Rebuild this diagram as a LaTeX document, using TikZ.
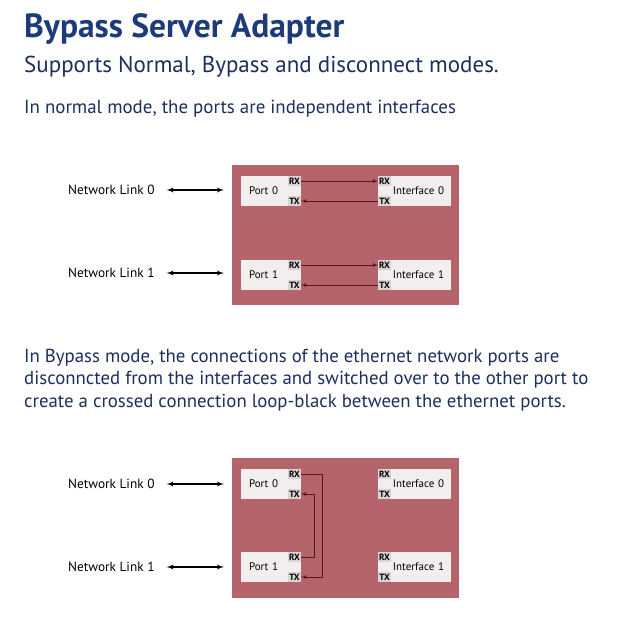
\documentclass[tikz,border=0pt]{standalone}
\usepackage{fontspec}
\setmainfont{PT Sans}
\usetikzlibrary{arrows}
\usetikzlibrary{positioning}
\definecolor{titleblue}{HTML}{1B3B7B}
\definecolor{textblue}{HTML}{1E2F5E}
\definecolor{cardred}{HTML}{B4646A}
\definecolor{boxwhite}{HTML}{F3EEEE}
\definecolor{pingrey}{HTML}{D6D3D3}
\definecolor{wirered}{HTML}{5C1418}
\tikzset{card/.style = {fill=cardred, minimum width=227, minimum height=140, inner sep=0}}
\tikzset{portbox/.style = {fill=boxwhite, minimum width=60, minimum height=30, text width=44,
                           inner xsep=8, inner ysep=0, align=left, font=\fontsize{11}{11}\selectfont}}
\tikzset{ifacebox/.style = {fill=boxwhite, minimum width=73, minimum height=30, text width=59,
                            inner xsep=7, inner ysep=0, align=right, font=\fontsize{11}{11}\selectfont}}
\tikzset{pin/.style = {fill=pingrey, inner sep=0, minimum width=13, minimum height=10,
                       font=\bfseries\fontsize{9}{9}\selectfont}}
\tikzset{wire/.style = {draw=wirered, line width=0.8, -latex'}}
\tikzset{link/.style = {line width=1.3, latex'-latex', shorten <=12, shorten >=8}}
\tikzset{linklabel/.style = {inner sep=0, anchor=west, font=\fontsize{13.3}{13.3}\selectfont}}

\begin{document}
\begin{tikzpicture}[x=1pt, y=-1pt]
      \useasboundingbox [fill=white] (0, 0) rectangle (640, 640);
      % heading
      \node [anchor=base west, inner sep=0, text=titleblue, font=\bfseries\fontsize{33.5}{33.5}\selectfont] (title) at (24, 37) {Bypass Server Adapter};
      \node [anchor=base west, inner sep=0, text=textblue, font=\fontsize{23}{23}\selectfont] (modes) at (24, 72) {Supports Normal, Bypass and disconnect modes.};
      \node [anchor=base west, inner sep=0, text=textblue, font=\fontsize{18.9}{18.9}\selectfont] (normalnote) at (24, 113) {In normal mode, the ports are independent interfaces};

      % normal mode
      \node [card] (cardA) at (345.5, 235) {};
      \node [portbox] (portA0) at (271, 191) {Port 0};
      \node [portbox] (portA1) at (271, 275) {Port 1};
      \node [ifacebox] (ifaceA0) at (414.5, 191) {Interface 0};
      \node [ifacebox] (ifaceA1) at (414.5, 275) {Interface 1};
      \foreach \n in {0, 1} {
        \node [pin, anchor=north east] (portA\n rx) at (portA\n.north east) {RX};
        \node [pin, anchor=south east] (portA\n tx) at (portA\n.south east) {TX};
        \node [pin, anchor=north west] (ifaceA\n rx) at (ifaceA\n.north west) {RX};
        \node [pin, anchor=south west] (ifaceA\n tx) at (ifaceA\n.south west) {TX};
        \draw [wire] (portA\n rx) -- (ifaceA\n rx);
        \draw [wire] (ifaceA\n tx) -- (portA\n tx);
      }
      \node [linklabel] (linkA0) at (68, 190) {Network Link 0};
      \node [linklabel] (linkA1) at (68, 273) {Network Link 1};
      \draw [link] (linkA0.east) -- (linkA0.east -| cardA.west);
      \draw [link] (linkA1.east) -- (linkA1.east -| cardA.west);

      \node [anchor=base west, inner sep=0, align=left, text=textblue, font=\fontsize{18.8}{22.5}\selectfont] (bypassnote) at (24, 407)
        {In Bypass mode, the connections of the ethernet network ports are\\
         disconncted from the interfaces and switched over to the other port to\\
         create a crossed connection loop-black between the ethernet ports.};

      % bypass mode
      \node [card] (cardB) at (345.5, 528) {};
      \node [portbox] (portB0) at (271, 484) {Port 0};
      \node [portbox] (portB1) at (271, 567) {Port 1};
      \node [ifacebox] (ifaceB0) at (414.5, 484) {Interface 0};
      \node [ifacebox] (ifaceB1) at (414.5, 567) {Interface 1};
      \foreach \n in {0, 1} {
        \node [pin, anchor=north east] (portB\n rx) at (portB\n.north east) {RX};
        \node [pin, anchor=south east] (portB\n tx) at (portB\n.south east) {TX};
        \node [pin, anchor=north west] (ifaceB\n rx) at (ifaceB\n.north west) {RX};
        \node [pin, anchor=south west] (ifaceB\n tx) at (ifaceB\n.south west) {TX};
      }
      \draw [wire] (portB0rx) -- ++(28, 0) |- (portB1tx);
      \draw [wire] (portB1rx) -- ++(20, 0) |- (portB0tx);
      \node [linklabel] (linkB0) at (68, 484) {Network Link 0};
      \node [linklabel] (linkB1) at (68, 567) {Network Link 1};
      \draw [link] (linkB0.east) -- (linkB0.east -| cardB.west);
      \draw [link] (linkB1.east) -- (linkB1.east -| cardB.west);
    \end{tikzpicture}
\end{document}
